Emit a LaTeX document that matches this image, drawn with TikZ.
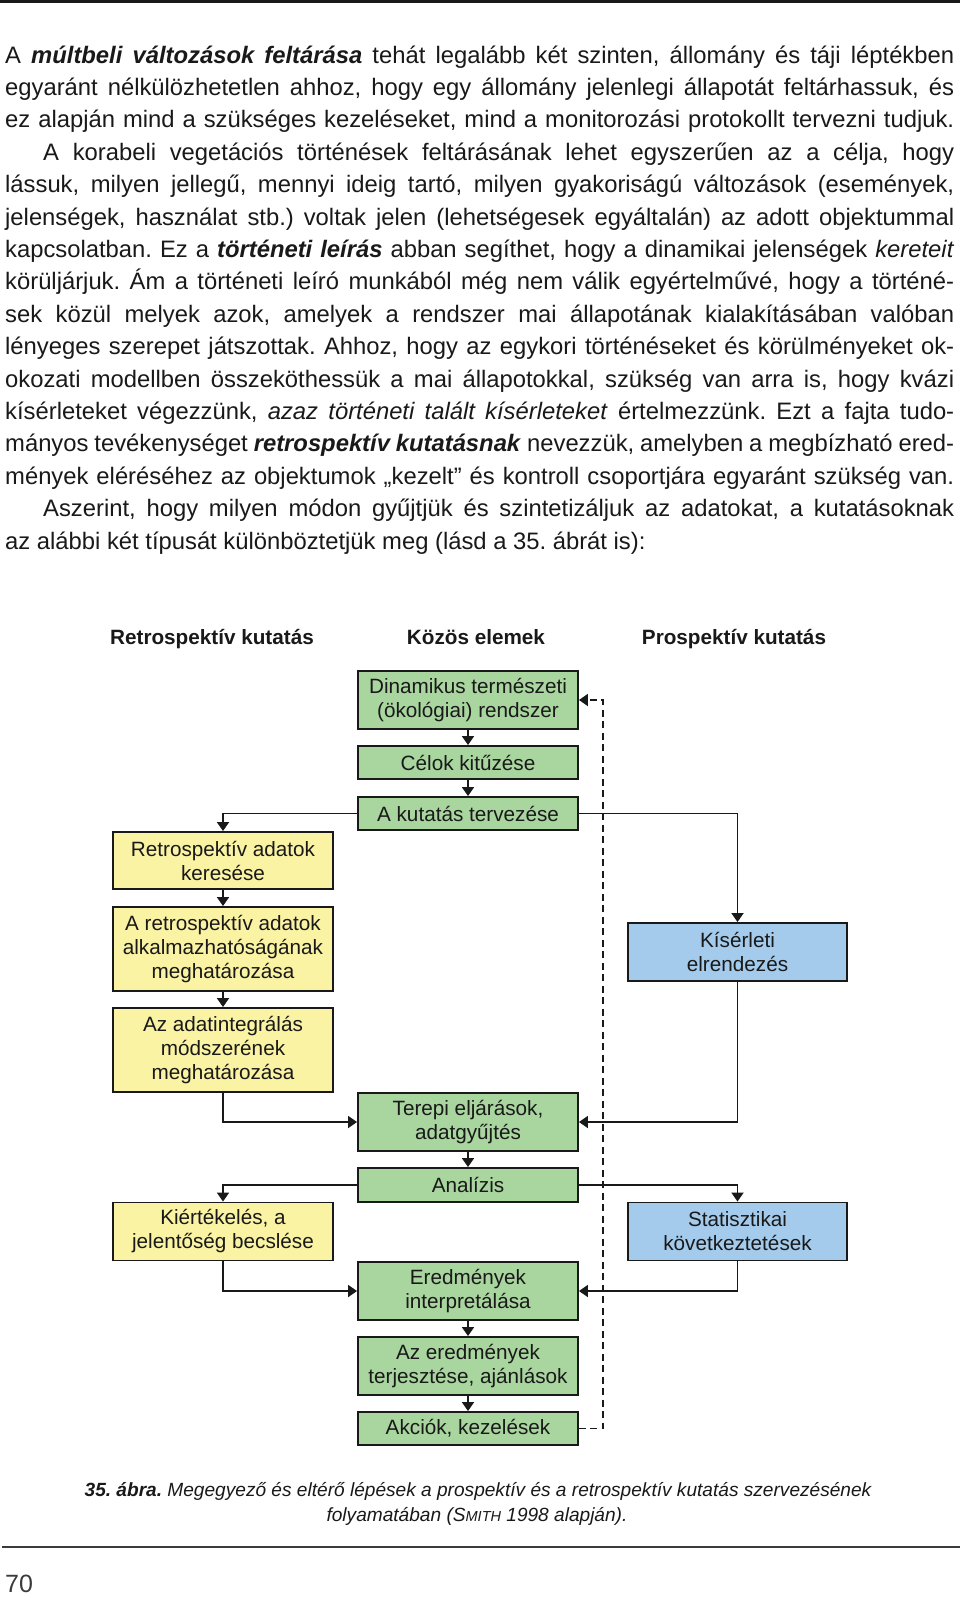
\documentclass[tikz,border=0pt]{standalone}
\usepackage{fontspec}
\setmainfont{Liberation Sans}
\usetikzlibrary{arrows.meta}
\definecolor{boxgreen}{RGB}{169,213,159}
\definecolor{boxyellow}{RGB}{250,243,163}
\definecolor{boxblue}{RGB}{164,203,235}
\definecolor{ink}{RGB}{25,25,25}
\newcommand\bodyfont{\fontsize{23.8}{32.4}\selectfont}
\newcommand\diagfont{\fontsize{20.7}{24}\selectfont}
\newcommand\headfont{\fontsize{20.7}{24}\selectfont\bfseries}
\newcommand\capfont{\fontsize{19.1}{25}\selectfont\itshape}
\newcommand\bi[1]{\textbf{\textit{#1}}}
\newcommand\jline[2]{\makebox[#1pt][s]{#2}}
\frenchspacing
\begin{document}
\begin{tikzpicture}[x=1pt,y=-1pt,
  txt/.style={anchor=base west, inner sep=0pt, font=\bodyfont, text=ink},
  head/.style={anchor=base, inner sep=0pt, font=\headfont, text=ink},
  box/.style={draw=ink, line width=1.9pt, minimum width=220pt, inner sep=0pt, align=center, font=\diagfont, text=ink},
  gbox/.style={box, fill=boxgreen},
  ybox/.style={box, fill=boxyellow},
  bbox/.style={box, fill=boxblue, minimum width=219pt},
  conn/.style={line width=1.8pt, draw=ink, -{Triangle[width=12pt,length=9pt]}},
  dconn/.style={conn, dash pattern=on 7pt off 4.5pt},
  captxt/.style={anchor=base, inner sep=0pt, font=\capfont, text=ink}]
\useasboundingbox (0,0) rectangle (960,1598);
\fill[white] (0,0) rectangle (960,1598);
% rules
\draw[line width=3pt, ink] (0,1.5) -- (960,1.5);
\draw[line width=2pt, ink!85] (2,1547) -- (960,1547);
% body text
\node[txt] (l1) at (5,63) {\jline{949}{A \bi{múltbeli változások feltárása} tehát legalább két szinten, állomány és táji léptékben}};
\node[txt] (l2) at (5,95.4) {\jline{949}{egyaránt nélkülözhetetlen ahhoz, hogy egy állomány jelenlegi állapotát feltárhassuk, és}};
\node[txt] (l3) at (5,127.8) {\jline{949}{ez alapján mind a szükséges kezeléseket, mind a monitorozási protokollt tervezni tudjuk.}};
\node[txt] (l4) at (43,160.2) {\jline{911}{A korabeli vegetációs történések feltárásának lehet egyszerűen az a célja, hogy}};
\node[txt] (l5) at (5,192.6) {\jline{949}{lássuk, milyen jellegű, mennyi ideig tartó, milyen gyakoriságú változások (események,}};
\node[txt] (l6) at (5,225) {\jline{949}{jelenségek, használat stb.) voltak jelen (lehetségesek egyáltalán) az adott objektummal}};
\node[txt] (l7) at (5,257.4) {\jline{949}{kapcsolatban. Ez a \bi{történeti leírás} abban segíthet, hogy a dinamikai jelenségek \textit{kereteit}}};
\node[txt] (l8) at (5,289.8) {\jline{949}{körüljárjuk. Ám a történeti leíró munkából még nem válik egyértelművé, hogy a történé-}};
\node[txt] (l9) at (5,322.2) {\jline{949}{sek közül melyek azok, amelyek a rendszer mai állapotának kialakításában valóban}};
\node[txt] (l10) at (5,354.6) {\jline{949}{lényeges szerepet játszottak. Ahhoz, hogy az egykori történéseket és körülményeket ok-}};
\node[txt] (l11) at (5,387) {\jline{949}{okozati modellben összeköthessük a mai állapotokkal, szükség van arra is, hogy kvázi}};
\node[txt] (l12) at (5,419.4) {\jline{949}{kísérleteket végezzünk, \textit{azaz történeti talált kísérleteket} értelmezzünk. Ezt a fajta tudo-}};
\node[txt] (l13) at (5,451.8) {\jline{949}{mányos tevékenységet \bi{retrospektív kutatásnak} nevezzük, amelyben a megbízható ered-}};
\node[txt] (l14) at (5,484.2) {\jline{949}{mények eléréséhez az objektumok „kezelt” és kontroll csoportjára egyaránt szükség van.}};
\node[txt] (l15) at (43,516.6) {\jline{911}{Aszerint, hogy milyen módon gyűjtjük és szintetizáljuk az adatokat, a kutatásoknak}};
\node[txt] (l16) at (5,549) {az alábbi két típusát különböztetjük meg (lásd a 35. ábrát is):};
% headers
\node[head] (h1) at (212,644) {Retrospektív kutatás};
\node[head] (h2) at (476,644) {Közös elemek};
\node[head] (h3) at (734,644) {Prospektív kutatás};
% boxes
\node[gbox, minimum height=58pt] (g1) at (468,700) {Dinamikus természeti\\(ökológiai) rendszer};
\node[gbox, minimum height=33pt] (g2) at (468,762.5) {Célok kitűzése};
\node[gbox, minimum height=33pt] (g3) at (468,813.5) {A kutatás tervezése};
\node[ybox, minimum height=57pt] (y1) at (223,860.5) {Retrospektív adatok\\keresése};
\node[ybox, minimum height=84pt] (y2) at (223,949) {A retrospektív adatok\\alkalmazhatóságának\\meghatározása};
\node[ybox, minimum height=84pt] (y3) at (223,1050) {Az adatintegrálás\\módszerének\\meghatározása};
\node[bbox, minimum height=58pt] (b1) at (737.5,952) {Kísérleti\\elrendezés};
\node[gbox, minimum height=58pt] (g4) at (468,1122) {Terepi eljárások,\\adatgyűjtés};
\node[gbox, minimum height=34pt] (g5) at (468,1185) {Analízis};
\node[ybox, minimum height=58pt] (y4) at (223,1231.5) {Kiértékelés, a\\jelentőség becslése};
\node[bbox, minimum height=58pt] (b2) at (737.5,1231.5) {Statisztikai\\következtetések};
\node[gbox, minimum height=58pt] (g6) at (468,1291) {Eredmények\\interpretálása};
\node[gbox, minimum height=58pt] (g7) at (468,1366) {Az eredmények\\terjesztése, ajánlások};
\node[gbox, minimum height=33pt] (g8) at (468,1428.5) {Akciók, kezelések};
% connectors
\draw[conn] (g1) -- (g2);
\draw[conn] (g2) -- (g3);
\draw[conn] (g3.west) -| (y1.north);
\draw[conn] (g3.east) -| (b1.north);
\draw[conn] (y1) -- (y2);
\draw[conn] (y2) -- (y3);
\draw[conn] (y3.south) |- (g4.west);
\draw[conn] (b1.south) |- (g4.east);
\draw[conn] (g4) -- (g5);
\draw[conn] (g5.west) -| (y4.north);
\draw[conn] (g5.east) -| (b2.north);
\draw[conn] (y4.south) |- (g6.west);
\draw[conn] (b2.south) |- (g6.east);
\draw[conn] (g6) -- (g7);
\draw[conn] (g7) -- (g8);
\coordinate (d1) at (603,1428.5);
\coordinate (d2) at (603,700);
\draw[dconn] (g8.east) -- (d1) -- (d2) -- (g1.east);
% caption
\node[captxt] (c1) at (478,1496) {\bi{35. ábra.} Megegyező és eltérő lépések a prospektív és a retrospektív kutatás szervezésének};
\node[captxt] (c2) at (477,1521) {folyamatában (S{\fontsize{14.5}{15}\selectfont MITH} 1998 alapján).};
% page number
\node[txt, font=\fontsize{25}{25}\selectfont, text=ink!85] (pn) at (5,1592) {70};
\end{tikzpicture}
\end{document}
